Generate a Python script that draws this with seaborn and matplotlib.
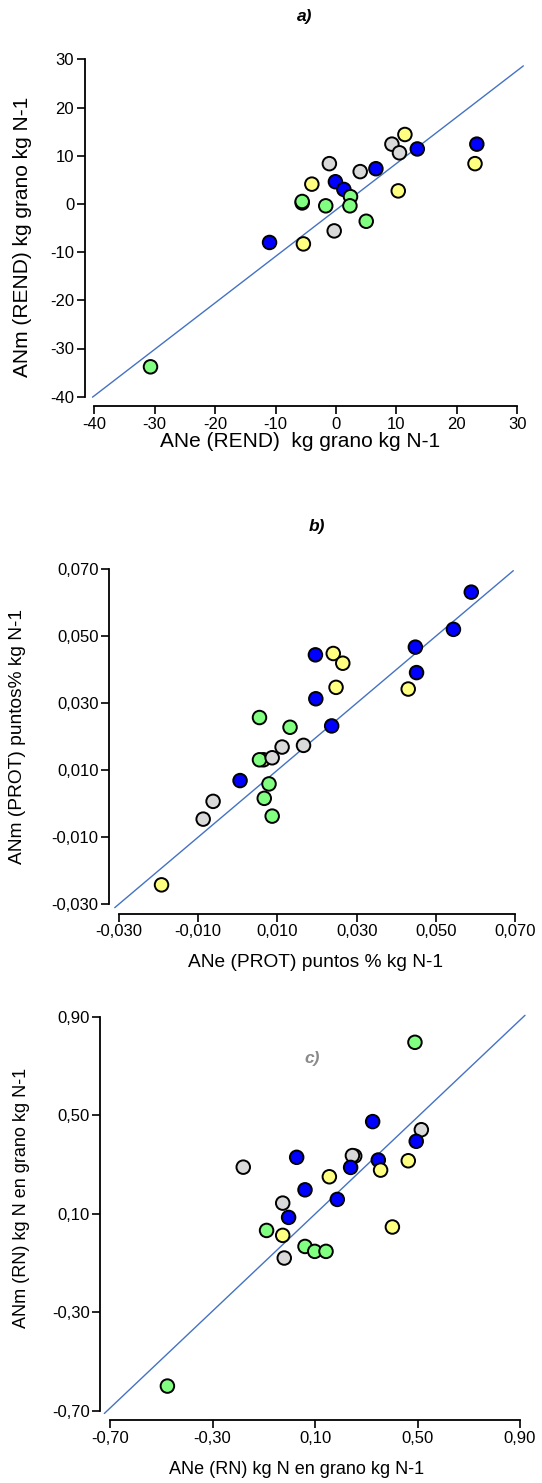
import numpy as np
import pandas as pd
import matplotlib
matplotlib.use("Agg")
import matplotlib.pyplot as plt
import seaborn as sns

# ---------------- data ----------------
# panel a) REND
a_group = ["azul", "verde", "azul", "amarillo", "amarillo", "verde", "gris", "azul", "azul",
           "gris", "verde", "verde", "gris", "verde", "azul", "gris", "gris", "amarillo",
           "amarillo", "azul", "azul", "amarillo", "verde"]
a_x = [-5.6, -30.7, -11.0, -5.4, -4.0, -5.6, -1.1, -0.1, 1.3,
       -0.3, 2.4, 2.3, 4.0, 5.0, 6.6, 9.25, 10.5, 11.4,
       10.3, 13.45, 23.3, 23.0, -1.7]
a_y = [0.2, -33.8, -8.0, -8.3, 4.1, 0.5, 8.35, 4.6, 3.0,
       -5.6, 1.5, -0.4, 6.7, -3.6, 7.3, 12.4, 10.6, 14.4,
       2.7, 11.4, 12.4, 8.35, -0.4]

# panel b) PROT
b_group = ["amarillo", "gris", "gris", "azul", "verde", "amarillo", "verde", "gris", "verde",
           "verde", "verde", "gris", "verde", "gris", "azul", "azul", "azul", "amarillo",
           "amarillo", "amarillo", "amarillo", "azul", "azul", "azul", "azul"]
b_x = [-0.0192, -0.0087, -0.0062, 0.0006, 0.0055, 0.0065, 0.0055, 0.0087, 0.0079,
       0.0067, 0.0087, 0.0112, 0.0132, 0.0166, 0.0196, 0.0197, 0.0237, 0.0241,
       0.0265, 0.0248, 0.0430, 0.0448, 0.0451, 0.0544, 0.0589]
b_y = [-0.0242, -0.0046, 0.0007, 0.0069, 0.0257, 0.0131, 0.0131, 0.0137, 0.0059,
       0.0016, -0.0037, 0.0169, 0.0228, 0.0174, 0.0444, 0.0313, 0.0232, 0.0448,
       0.0419, 0.0347, 0.0342, 0.0467, 0.0391, 0.0520, 0.0631]

# panel c) RN
c_group = ["verde", "azul", "gris", "azul", "azul", "gris", "gris", "azul", "amarillo",
           "amarillo", "azul", "gris", "amarillo", "azul", "azul", "gris", "azul", "verde",
           "amarillo", "amarillo", "verde", "verde", "verde", "gris", "verde"]
c_x = [0.490, 0.325, 0.515, 0.495, 0.0285, 0.255, 0.246, 0.347, 0.464,
       0.356, 0.239, -0.180, 0.156, 0.061, 0.187, -0.026, -0.003, -0.089,
       -0.026, 0.402, 0.061, 0.099, 0.143, -0.020, -0.476]
c_y = [0.796, 0.474, 0.441, 0.394, 0.329, 0.334, 0.336, 0.318, 0.315,
       0.277, 0.288, 0.289, 0.250, 0.197, 0.158, 0.143, 0.085, 0.032,
       0.012, 0.046, -0.033, -0.053, -0.053, -0.080, -0.600]

a_ticks = [-40, -30, -20, -10, 0, 10, 20, 30]
b_ticks = [-0.030, -0.010, 0.010, 0.030, 0.050, 0.070]
c_ticks = [-0.70, -0.30, 0.10, 0.50, 0.90]

# reference lines (slope, intercept, x-extent)
a_line = dict(slope=0.964, intercept=-1.25, xs=[-40.3, 31.0])
b_line = dict(slope=1.0, intercept=0.0, xs=[-0.031, 0.0695])
c_line = dict(slope=0.985, intercept=0.0, xs=[-0.722, 0.9195])

palette = {"azul": "#0000FF", "amarillo": "#FFFF80", "verde": "#80FF80", "gris": "#D9D9D9"}

# ---------------- style ----------------
sns.set_theme(style="ticks")
plt.rcParams["font.family"] = ["Liberation Sans", "DejaVu Sans"]

W, H = 542, 1483
fig = plt.figure(figsize=(W / 100, H / 100), dpi=100)


def rect(x0, x1, ytop, ybot):
    return [x0 / W, 1 - ybot / H, (x1 - x0) / W, (ybot - ytop) / H]


def panel(r, x, y, g, ticks, lim, fmt, xlabel, ylabel, line, xlab_xy, ylab_xy, lab_fs):
    ax = fig.add_axes(r)
    df = pd.DataFrame({"x": x, "y": y, "g": g})
    xs = np.array(line["xs"])
    ax.plot(xs, line["intercept"] + line["slope"] * xs, color="#4472C4", lw=1.0,
            clip_on=False, zorder=1)
    sns.scatterplot(data=df, x="x", y="y", hue="g", palette=palette, s=95,
                    edgecolor="black", linewidth=1.4, legend=False, ax=ax,
                    zorder=3, clip_on=False)
    ax.set_xlim(lim)
    ax.set_ylim(lim)
    ax.set_xticks(ticks)
    ax.set_yticks(ticks)
    ax.set_xticklabels([fmt(t) for t in ticks])
    ax.set_yticklabels([fmt(t) for t in ticks])
    sns.despine(ax=ax, offset=7)
    for s in ("left", "bottom"):
        ax.spines[s].set_linewidth(1.3)
        ax.spines[s].set_color("black")
    ax.tick_params(axis="both", direction="out", length=5.5, width=1.2,
                   color="black", labelsize=12, labelcolor="black", pad=2)
    ax.set_xlabel(xlabel, fontsize=lab_fs, color="black")
    ax.set_ylabel(ylabel, fontsize=lab_fs, color="black")
    ax.xaxis.set_label_coords(*xlab_xy)
    ax.yaxis.set_label_coords(*ylab_xy)
    ax.xaxis.label.set_va("center")
    ax.yaxis.label.set_va("center")
    ax.grid(False)
    return ax


fmt_a = lambda t: f"{t:d}"
fmt_b = lambda t: f"{t:.3f}".replace(".", ",")
fmt_c = lambda t: f"{t:.2f}".replace(".", ",")

ax_a = panel(rect(94.3, 517.3, 59.3, 396.7), a_x, a_y, a_group, a_ticks, (-40, 30), fmt_a,
             "ANe (REND)  kg grano kg N-1", "ANm (REND) kg grano kg N-1", a_line,
             (0.486, -0.132), (-0.170, 0.474), 15)
ax_b = panel(rect(118.7, 515.3, 569.0, 904.3), b_x, b_y, b_group, b_ticks, (-0.030, 0.070), fmt_b,
             "ANe (PROT) puntos % kg N-1", "ANm (PROT) puntos% kg N-1", b_line,
             (0.495, -0.175), (-0.254, 0.499), 13.8)
ax_c = panel(rect(110.0, 520.0, 1016.7, 1410.7), c_x, c_y, c_group, c_ticks, (-0.70, 0.90), fmt_c,
             "ANe (RN) kg N en grano kg N-1", "ANm (RN) kg N en grano kg N-1", c_line,
             (0.456, -0.148), (-0.215, 0.54), 13)

fig.text(305 / W, 1 - 17 / H, "a)", ha="center", va="center", fontsize=12.5,
         fontweight="bold", fontstyle="italic", color="black")
fig.text(317 / W, 1 - 526 / H, "b)", ha="center", va="center", fontsize=12.5,
         fontweight="bold", fontstyle="italic", color="black")
ax_c.text(0.493, 0.895, "c)", transform=ax_c.transAxes, ha="center", va="center",
          fontsize=12.5, fontweight="bold", fontstyle="italic", color="#8a8a8a")

fig.savefig("out.png", dpi=100)
